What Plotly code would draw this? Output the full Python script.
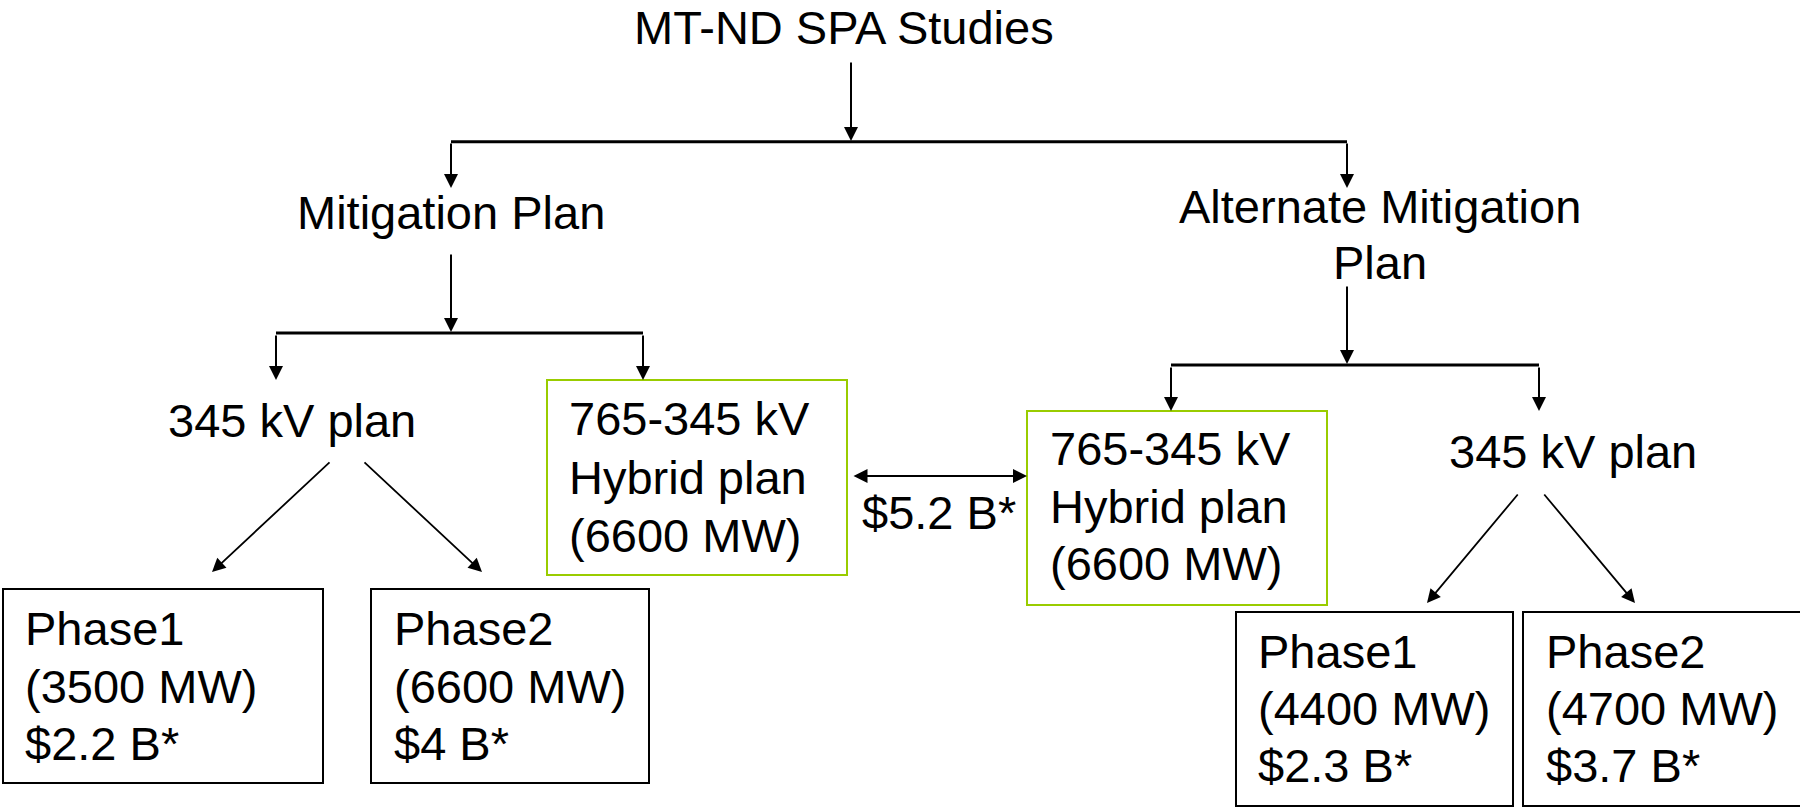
import plotly.graph_objects as go

# ---- content ----
title_text = "MT-ND SPA Studies"
plan_names = ["Mitigation Plan", "Alternate Mitigation", "Plan"]
kv_plan_label = "345 kV plan"
hybrid_lines = ["765-345 kV", "Hybrid plan", "(6600 MW)"]
hybrid_cost = "$5.2 B*"
phase_names = ["Phase1", "Phase2", "Phase1", "Phase2"]
phase_mw = ["(3500 MW)", "(6600 MW)", "(4400 MW)", "(4700 MW)"]
phase_cost = ["$2.2 B*", "$4 B*", "$2.3 B*", "$3.7 B*"]

FONT = "Liberation Sans, Arial, sans-serif"
FS = 47
GREEN = "#99CC00"
W, H = 1800, 807

fig = go.Figure()
shapes = []
ann = []


def text(x, baseline, s, anchor="center"):
    ann.append(dict(x=x, y=baseline - 16.5, xref="x", yref="y", text=s,
                    showarrow=False, xanchor=anchor, yanchor="middle",
                    font=dict(family=FONT, size=FS, color="black")))


def arrow(x0, y0, x1, y1, w=2, size=1.4, both=False):
    ann.append(dict(x=x1, y=y1, ax=x0, ay=y0, xref="x", yref="y",
                    axref="x", ayref="y", text="", showarrow=True,
                    arrowhead=2, arrowsize=size, arrowwidth=w,
                    startarrowhead=2, startarrowsize=size,
                    arrowside="end+start" if both else "end",
                    arrowcolor="black", standoff=0, startstandoff=0))


def hline(x0, x1, y, w=3):
    shapes.append(dict(type="line", xref="x", yref="y", x0=x0, x1=x1, y0=y, y1=y,
                       line=dict(color="black", width=w)))


def box(x0, y0, x1, y1, color="black", w=2):
    shapes.append(dict(type="rect", xref="x", yref="y", x0=x0, x1=x1, y0=y0, y1=y1,
                       line=dict(color=color, width=w), fillcolor="rgba(0,0,0,0)"))


# title and first split
text(844, 43.5, title_text)
arrow(851, 61, 851, 141)
hline(451, 1347, 141.7)
arrow(451, 142, 451, 188)
arrow(1347, 142, 1347, 188)

# level 2 labels
text(451, 229, plan_names[0])
text(1380, 223, plan_names[1])
text(1380, 279, plan_names[2])

# left branch split
arrow(451, 253, 451, 332)
hline(276, 643, 333)
arrow(276, 334, 276, 380)
arrow(643, 334, 643, 380)

# right branch split
arrow(1347, 285, 1347, 364)
hline(1171, 1539, 365)
arrow(1171, 366, 1171, 411)
arrow(1539, 366, 1539, 411)

# hybrid boxes
box(547, 380, 847, 575, GREEN)
box(1027, 411, 1327, 605, GREEN)
for i, s in enumerate(hybrid_lines):
    text(567, 435 + 58.5 * i, s, "left")
    text(1048, 465 + 57.5 * i, s, "left")

arrow(852, 476, 1027, 476, both=True)
text(939, 529, hybrid_cost)

# 345 kV plans
text(292, 437, kv_plan_label)
text(1573, 468, kv_plan_label)
arrow(331, 461, 212, 572, w=1.8, size=1.5)
arrow(363, 461, 482, 572, w=1.8, size=1.5)
arrow(1519, 493, 1427, 603, w=1.8, size=1.5)
arrow(1543, 493, 1635, 603, w=1.8, size=1.5)

# phase boxes
phase_boxes = [(3, 589, 323, 783), (371, 589, 649, 783),
               (1236, 612, 1513, 806), (1523, 612, 1801, 806)]
text_left = [23, 392, 1256, 1544]
text_base = [645, 645, 668, 668]
text_step = [57.5, 57.5, 57, 57]
for i, (x0, y0, x1, y1) in enumerate(phase_boxes):
    box(x0, y0, x1, y1)
    lines = [phase_names[i], phase_mw[i], phase_cost[i]]
    for j, s in enumerate(lines):
        text(text_left[i], text_base[i] + text_step[i] * j, s, "left")

fig.update_layout(
    width=W, height=H,
    margin=dict(l=0, r=0, t=0, b=0),
    paper_bgcolor="white", plot_bgcolor="white",
    xaxis=dict(range=[0, W], visible=False, fixedrange=True),
    yaxis=dict(range=[H, 0], visible=False, fixedrange=True),
    shapes=shapes, annotations=ann, showlegend=False,
)

fig.write_html("out.html", config={"displayModeBar": False},
               post_script="document.body.style.margin='0';")
